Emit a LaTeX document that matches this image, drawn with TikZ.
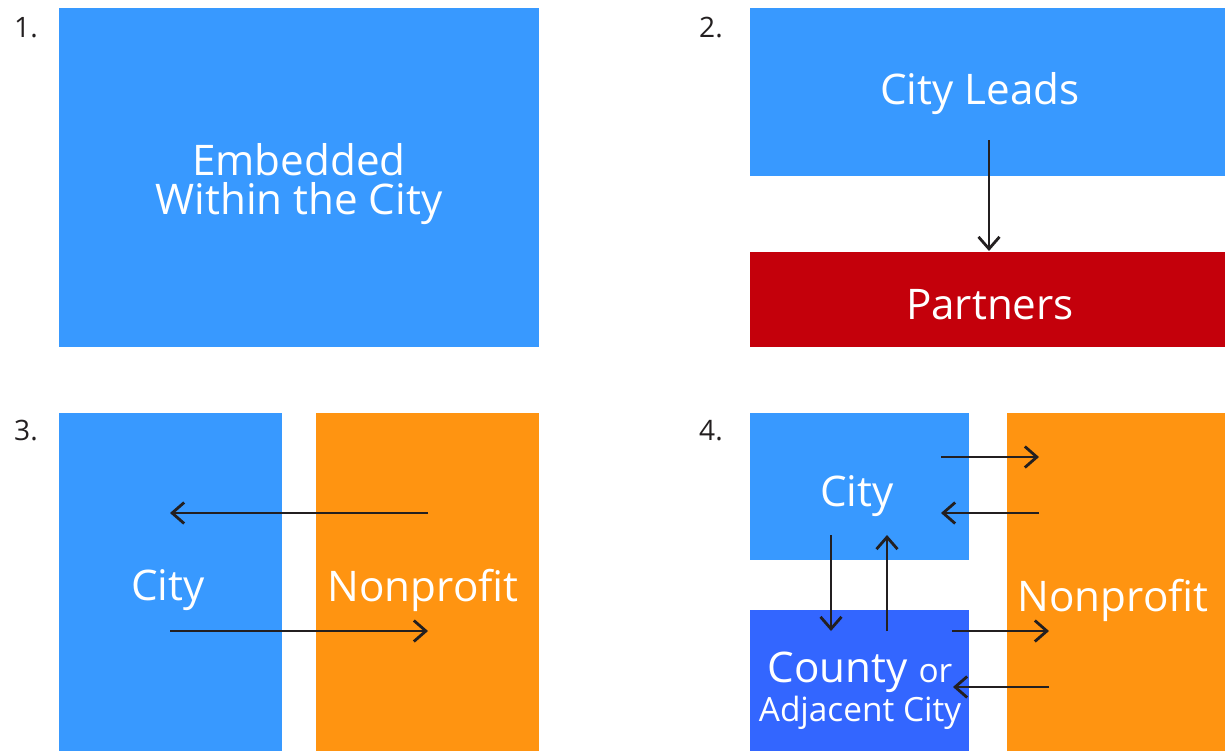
\documentclass[tikz,border=0pt]{standalone}
\usepackage{fontspec}
\setmainfont{Open Sans}
\usepackage{xcolor}
\usetikzlibrary{positioning,arrows.meta}

\definecolor{cityblue}{RGB}{56,153,255}
\definecolor{countyblue}{RGB}{51,102,255}
\definecolor{partnerred}{RGB}{196,0,11}
\definecolor{npoorange}{RGB}{255,148,17}
\definecolor{inkgray}{RGB}{35,31,32}

\begin{document}
\begin{tikzpicture}[x=0.02cm, y=-0.02cm,
    box/.style={draw=none, inner sep=0pt, anchor=north west},
    lbl/.style={text=white, font=\fontsize{24}{22.5}\selectfont, align=center},
    num/.style={text=inkgray, font=\fontsize{16}{18}\selectfont},
    flow/.style={draw=inkgray, line width=1.6pt, -{Straight Barb[length=2.4mm, width=4.2mm, line width=1.6pt]}}]
    \useasboundingbox (0,0) rectangle (1225,751);

    % Panel numbers
    \node[num] (n1) at (26,28) {1.};
    \node[num] (n2) at (711,28) {2.};
    \node[num] (n3) at (26,431) {3.};
    \node[num] (n4) at (711,431) {4.};

    % Panel 1
    \node[box, fill=cityblue, minimum width=9.6cm, minimum height=6.78cm] (emb) at (59,8) {};
    \node[lbl] (embt) at (299,184) {Embedded\\Within the City};

    % Panel 2
    \node[box, fill=cityblue, minimum width=9.5cm, minimum height=3.36cm] (lead) at (750,8) {};
    \node[box, fill=partnerred, minimum width=9.5cm, minimum height=1.9cm] (part) at (750,252) {};
    \node[lbl] (leadt) at (980,94) {City Leads};
    \node[lbl] (partt) at (990,305) {Partners};
    \coordinate (d2s) at (989,140);
    \coordinate (d2e) at (989,251);
    \draw[flow] (d2s) -- (d2e);

    % Panel 3
    \node[box, fill=cityblue, minimum width=4.46cm, minimum height=6.76cm] (city3) at (59,413) {};
    \node[box, fill=npoorange, minimum width=4.46cm, minimum height=6.76cm] (npo3) at (316,413) {};
    \node[lbl] (city3t) at (168,590) {City};
    \node[lbl] (npo3t) at (423,590) {Nonprofit};
    \coordinate (p3a) at (428,513);
    \coordinate (p3b) at (170,513);
    \coordinate (p3c) at (170,631);
    \coordinate (p3d) at (428,631);
    \draw[flow] (p3a) -- (p3b);
    \draw[flow] (p3c) -- (p3d);

    % Panel 4
    \node[box, fill=cityblue, minimum width=4.38cm, minimum height=2.94cm] (city4) at (750,413) {};
    \node[box, fill=countyblue, minimum width=4.38cm, minimum height=2.82cm] (cnty4) at (750,610) {};
    \node[box, fill=npoorange, minimum width=4.36cm, minimum height=6.76cm] (npo4) at (1007,413) {};
    \node[lbl] (city4t) at (857,496) {City};
    \node[lbl] (npo4t) at (1113,600) {Nonprofit};
    \node[lbl, font=\fontsize{24}{22}\selectfont] (cnty4t) at (860,691)
        {County {\fontsize{19}{19}\selectfont or}\\{\fontsize{19}{19}\selectfont Adjacent City}};
    \coordinate (q1) at (941,457);
    \coordinate (q2) at (1039,457);
    \coordinate (q3) at (1039,513);
    \coordinate (q4) at (941,513);
    \coordinate (q5) at (831,535);
    \coordinate (q6) at (831,631);
    \coordinate (q7) at (887,631);
    \coordinate (q8) at (887,535);
    \coordinate (q9) at (952,631);
    \coordinate (q10) at (1049,631);
    \coordinate (q11) at (1049,687);
    \coordinate (q12) at (953,687);
    \draw[flow] (q1) -- (q2);
    \draw[flow] (q3) -- (q4);
    \draw[flow] (q5) -- (q6);
    \draw[flow] (q7) -- (q8);
    \draw[flow] (q9) -- (q10);
    \draw[flow] (q11) -- (q12);
\end{tikzpicture}
\end{document}
